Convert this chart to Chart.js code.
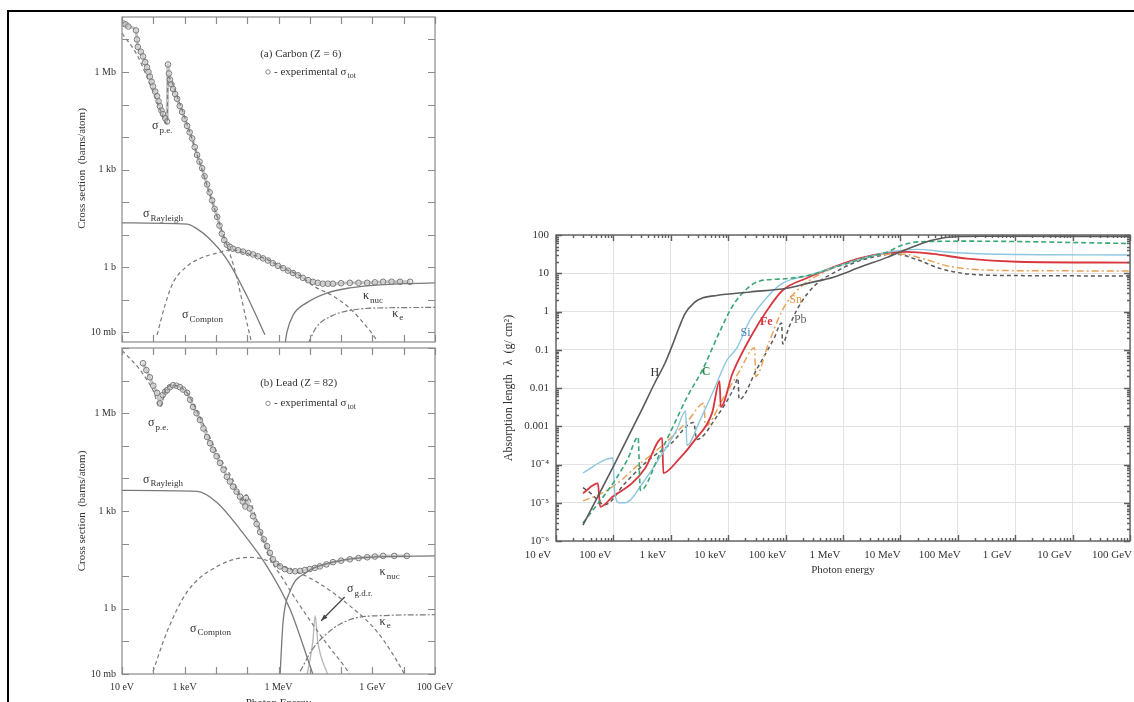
<!DOCTYPE html>
<html>
<head>
<meta charset="utf-8">
<title>Photon cross sections and absorption length</title>
<script src="https://cdn.jsdelivr.net/npm/chart.js@4.4.1/dist/chart.umd.min.js"></script>
<style>
  html, body { margin: 0; padding: 0; background: #fff; }
  body { width: 1134px; height: 702px; overflow: hidden; position: relative; }
  .frame { position: absolute; left: 7px; top: 10px; width: 1140px; height: 720px; border-left: 2px solid #000; border-top: 2px solid #000; }
  canvas { position: absolute; }
  #carbonChart { left: 30px; top: 12px; }
  #leadChart { left: 30px; top: 343px; }
  #absorptionChart { left: 490px; top: 225px; }
</style>
</head>
<body>
<div class="frame"></div>
<canvas id="carbonChart" width="440" height="335"></canvas>
<canvas id="leadChart" width="440" height="368"></canvas>
<canvas id="absorptionChart" width="644" height="362"></canvas>
<script>
// ---- (a) Carbon: photon energy (eV) vs cross section (barns/atom) ----
var carbonTotE = [11, 13, 16, 28, 30, 32, 40, 47, 55, 63, 70, 78, 88, 98, 115, 132, 147, 162, 182, 204, 240, 275, 295, 315, 339, 380, 427, 500, 575, 700, 832, 1000, 1200, 1450, 1740, 2100, 2510, 3000, 3630, 4350, 5250, 6300, 7590, 9100, 1.1e4, 1.3e4, 1.55e4, 1.85e4, 2.24e4, 2.8e4, 3.5e4, 5.1e4, 7.4e4, 1.1e5, 1.55e5, 2.2e5, 3.2e5, 4.6e5, 6.6e5, 9.6e5, 1.4e6, 2.0e6, 2.9e6, 4.2e6, 6.0e6, 8.8e6, 1.26e7, 1.8e7, 2.6e7, 3.8e7, 5.5e7, 1e8, 1.9e8, 3.6e8, 6.8e8, 1.2e9, 2.2e9, 4.1e9, 7.6e9, 1.6e10];
var carbonTotSigma = [3.1e7, 2.9e7, 2.5e7, 1.9e7, 1.0e7, 5.9e6, 4.2e6, 3.0e6, 2.0e6, 1.4e6, 1.0e6, 7.2e5, 5.0e5, 3.6e5, 2.5e5, 1.8e5, 1.25e5, 8.9e4, 6.5e4, 5.1e4, 3.8e4, 3.0e4, 1.7e6, 9e5, 5.9e5, 4.2e5, 3.0e5, 2.1e5, 1.5e5, 9e4, 5.9e4, 3.6e4, 2.2e4, 1.4e4, 9.1e3, 4.9e3, 2.8e3, 1.75e3, 1.1e3, 620, 350, 200, 112, 62, 35, 19, 10.7, 6.8, 4.9, 4.2, 3.7, 3.3, 3.0, 2.7, 2.45, 2.15, 1.86, 1.6, 1.32, 1.1, 0.93, 0.78, 0.66, 0.56, 0.47, 0.40, 0.355, 0.33, 0.31, 0.31, 0.31, 0.32, 0.33, 0.33, 0.33, 0.34, 0.355, 0.355, 0.355, 0.355];
var carbonPeE = [10, 30, 78, 162, 275, 295, 708, 2140, 8100, 1.95e4, 4.1e4, 1.07e5, 1.32e5];
var carbonPeSigma = [1.55e7, 3.4e6, 4.2e5, 7.2e4, 2.6e4, 6.8e5, 1.05e5, 4.6e3, 85, 7.1, 0.76, 0.0135, 0.0058];
var carbonRayE = [10, 1200, 2500, 5250, 2.24e4, 9.8e4, 3.7e5];
var carbonRaySigma = [23, 21, 15, 8.7, 1.74, 0.13, 0.0083];
var carbonComptonE = [132, 234, 427, 1200, 3100, 9300, 3.2e4, 1e5, 4.3e5, 1.4e6, 4.9e6, 1.26e7, 5.5e7, 1.9e8, 1.05e9, 1.6e9];
var carbonComptonSigma = [0.0083, 0.066, 0.33, 1.07, 1.86, 2.6, 3.4, 2.6, 1.74, 0.93, 0.54, 0.27, 0.13, 0.054, 0.0083, 0.0045];
var carbonNucE = [1.6e6, 1.86e6, 2.9e6, 8.1e6, 3.5e7, 1.9e8, 2.2e9, 1e11];
var carbonNucSigma = [0.004, 0.01, 0.033, 0.081, 0.16, 0.23, 0.29, 0.33];
var carbonElecE = [8.9e6, 1.6e7, 5.5e7, 2e8, 6.8e8, 1e11];
var carbonElecSigma = [0.0045, 0.014, 0.033, 0.047, 0.054, 0.058];

// ---- (b) Lead ----
var leadTotE = [47, 60, 78, 100, 132, 162, 200, 240, 275, 340, 427, 550, 708, 900, 1200, 1500, 1860, 2400, 3100, 4000, 5250, 6500, 8100, 1.05e4, 1.35e4, 1.75e4, 2.24e4, 2.8e4, 3.5e4, 4.6e4, 5.9e4, 7.2e4, 8.7e4, 9.1e4, 1.2e5, 1.55e5, 2.0e5, 2.6e5, 3.4e5, 4.3e5, 5.3e5, 6.6e5, 8.5e5, 1.12e6, 1.6e6, 2.3e6, 3.4e6, 4.9e6, 7e6, 1e7, 1.45e7, 2.1e7, 3.4e7, 5.5e7, 1e8, 1.9e8, 3.6e8, 6.8e8, 1.2e9, 2.2e9, 5e9, 1.26e10];
var leadTotSigma = [3.4e7, 2.1e7, 1.26e7, 7.0e6, 4.2e6, 2.0e6, 3.6e6, 4.6e6, 5.1e6, 6.3e6, 7.2e6, 7.0e6, 6.3e6, 5.3e6, 4.2e6, 2.6e6, 1.55e6, 1.0e6, 6.2e5, 3.4e5, 1.86e5, 1.2e5, 7.6e4, 4.8e4, 3.0e4, 1.85e4, 1.12e4, 8.0e3, 5.6e3, 3.9e3, 2.75e3, 1.95e3, 1.38e3, 2.5e3, 1.2e3, 690, 400, 224, 135, 83, 52, 33, 24, 20, 16.5, 14.5, 14.2, 14.5, 15.5, 16.6, 18, 20, 23, 27, 30, 33, 36, 38, 40, 42, 42, 42];
var leadPeE = [10, 38, 98, 162, 275, 427, 1200, 3100, 1.1e4, 3.5e4, 8.7e4, 9.1e4, 2e5, 4.3e5, 1.4e6, 4.9e6, 2.6e7, 1.66e8, 2e8];
var leadPeSigma = [8.5e7, 2.1e7, 5e6, 1.55e6, 6.3e6, 7.2e6, 4.2e6, 7.6e5, 6.2e4, 9.1e3, 1.8e3, 3.2e3, 550, 55, 8.1, 1.23, 0.123, 0.012, 0.009];
var leadRayE = [10, 2500, 1.1e4, 5.9e4, 4.3e5, 2.3e6, 1.17e7, 1.3e7];
var leadRaySigma = [4.3e3, 4e3, 1.8e3, 275, 20, 1, 0.012, 0.009];
var leadComptonE = [98, 275, 1200, 1.1e4, 1.23e5, 1.4e6, 1.7e7, 1.9e8, 1.4e9, 9.5e9, 1.1e10];
var leadComptonSigma = [0.012, 0.2, 3.3, 20, 38, 20, 6.6, 1.23, 0.2, 0.012, 0.009];
var leadNucE = [1.12e6, 1.4e6, 2.3e6, 8.1e6, 5.5e7, 6.8e8, 1e11];
var leadNucSigma = [0.009, 0.4, 3.3, 13.5, 27, 38, 42];
var leadElecE = [4.9e6, 1.26e7, 5.5e7, 2.4e8, 2.2e9, 1e11];
var leadElecSigma = [0.012, 0.06, 0.245, 0.5, 0.62, 0.66];
var leadGdrE = [8.1e6, 1.25e7, 1.48e7, 1.8e7, 3.8e7];
var leadGdrSigma = [0.009, 0.1, 0.62, 0.1, 0.009];

// ---- absorption length (g/cm2) vs photon energy (eV) ----
var hE = [29.5, 100, 316, 525, 794, 1120, 1410, 1780, 2510, 3550, 6310, 2.4e4, 1.05e5, 2.6e5, 6.8e5, 2e6, 5.9e6, 1.66e7, 3.7e7, 1e8, 3.2e8, 1e11];
var hLambda = [2.6e-6, 8.9e-5, 2.8e-3, 0.0135, 0.045, 0.16, 0.4, 0.89, 1.66, 2.24, 2.63, 3.24, 4.07, 5.6, 7.9, 14.5, 26, 49, 74, 91, 93, 91];
var cE = [29.5, 107, 178, 269, 295, 631, 1100, 1900, 3630, 7240, 1.2e4, 2.14e4, 3.55e4, 8.9e4, 2.6e5, 8.9e5, 2.6e6, 5.9e6, 1e7, 2e7, 1.45e8, 1e11];
var cLambda = [2.95e-6, 3.9e-5, 1.4e-4, 5.2e-4, 2.1e-5, 1.8e-4, 1e-3, 5.6e-3, 0.0316, 0.316, 1.41, 4.0, 6.3, 7.1, 8.9, 15.8, 26, 36, 52, 66, 69, 60];
var siE = [29.5, 70.8, 97.7, 105, 126, 158, 355, 794, 1260, 1820, 1905, 3240, 5620, 9550, 1.41e4, 2.4e4, 4.8e4, 8.9e4, 2.6e5, 7.9e5, 2.5e6, 7.9e6, 2e7, 6.3e7, 3.2e8, 1e11];
var siLambda = [6.0e-5, 1.32e-4, 1.48e-4, 2.0e-5, 1.0e-5, 1.0e-5, 4.0e-5, 2.5e-4, 7.9e-4, 2.5e-3, 3.2e-4, 1.45e-3, 8.9e-3, 0.054, 0.11, 0.6, 2.4, 5.5, 8.9, 15.1, 26, 38, 42, 36, 32, 30];
var feE = [29.5, 53.7, 58.9, 95.5, 209, 355, 708, 741, 1350, 2630, 5250, 7080, 7410, 1.2e4, 2.7e4, 4.8e4, 8.9e4, 2.3e5, 6.8e5, 2e6, 5.9e6, 1.29e7, 3.7e7, 1.45e8, 1.07e9, 1e11];
var feLambda = [1.78e-5, 3.2e-5, 7.8e-6, 1.41e-5, 3.2e-5, 7.9e-5, 4.9e-4, 6.0e-5, 1.32e-4, 4.4e-4, 2.24e-3, 0.0151, 3.2e-3, 0.025, 0.275, 1.1, 3.6, 7.4, 14.5, 25, 34, 36, 32, 24, 20, 19];
var snE = [29.5, 63, 126, 251, 501, 1000, 2000, 3800, 3980, 7940, 1.58e4, 2.88e4, 3.02e4, 5.0e4, 8.9e4, 1.58e5, 3.2e5, 6.3e5, 1.58e6, 4e6, 1e7, 2.5e7, 6.3e7, 2e8, 1e9, 1e11];
var snLambda = [1.12e-5, 1.78e-5, 3.5e-5, 8.9e-5, 2.0e-4, 5.0e-4, 1.41e-3, 4.0e-3, 1.0e-3, 5.0e-3, 0.028, 0.112, 0.02, 0.141, 1.12, 3.55, 7.9, 13.2, 22.4, 30, 32, 24, 15.8, 12.6, 11.7, 11.5];
var pbE = [29.5, 40, 71, 158, 398, 1000, 2510, 2820, 6310, 1.26e4, 1.48e4, 1.55e4, 3.16e4, 6.3e4, 8.5e4, 8.9e4, 1.12e5, 1.58e5, 2.5e5, 4e5, 7.1e5, 1.58e6, 4e6, 7.9e6, 2e7, 5e7, 1.58e8, 1e9, 1e11];
var pbLambda = [2.5e-5, 1.78e-5, 8.9e-6, 3.2e-5, 1.26e-4, 3.5e-4, 1.26e-3, 4.5e-4, 1.78e-3, 0.01, 0.0178, 5.0e-3, 0.0316, 0.2, 0.5, 0.141, 0.355, 1.12, 3.16, 6.3, 10.5, 19, 28, 32, 22.4, 13.2, 9.5, 8.7, 8.5];

// ---- tick labels ----
var crossTickValues = [0.01, 1, 1e3, 1e6];
var crossTickLabels = ['10 mb', '1 b', '1 kb', '1 Mb'];
var energyTickValuesLeft = [10, 1e3, 1e6, 1e9, 1e11];
var energyTickLabelsLeft = ['10 eV', '1 keV', '1 MeV', '1 GeV', '100 GeV'];
var energyTickValues = [10, 100, 1e3, 1e4, 1e5, 1e6, 1e7, 1e8, 1e9, 1e10, 1e11];
var energyTickLabels = ['10 eV', '100 eV', '1 keV', '10 keV', '100 keV', '1 MeV', '10 MeV', '100 MeV', '1 GeV', '10 GeV', '100 GeV'];
var lambdaTickValues = [1e-6, 1e-5, 1e-4, 1e-3, 0.01, 0.1, 1, 10, 100];
var lambdaTickLabels = ['10\u207B\u2076', '10\u207B\u2075', '10\u207B\u2074', '0.001', '0.01', '0.1', '1', '10', '100'];

var SERIF = '"Liberation Serif", "Times New Roman", serif';

function pairs(xs, ys) {
  return xs.map(function (x, i) { return { x: x, y: ys[i] }; });
}

function isDecade(v) {
  var l = Math.log10(v);
  return Math.abs(l - Math.round(l)) < 1e-6;
}

function labelFor(v, values, labels) {
  for (var i = 0; i < values.length; i++) {
    if (Math.abs(Math.log10(values[i]) - Math.log10(v)) < 1e-6) return labels[i];
  }
  return '';
}

function decadeTicks(from, to) {
  var out = [];
  for (var p = from; p <= to; p++) out.push({ value: Math.pow(10, p) });
  return out;
}

function minorTicks(from, to) {
  var out = [];
  for (var p = from; p < to; p++) {
    for (var m = 1; m <= 9; m++) out.push({ value: m * Math.pow(10, p) });
  }
  out.push({ value: Math.pow(10, to) });
  return out;
}

function curve(label, xs, ys, color, width, dash) {
  return {
    label: label,
    data: pairs(xs, ys),
    showLine: true,
    borderColor: color,
    backgroundColor: color,
    borderWidth: width,
    borderDash: dash || [],
    pointRadius: 0,
    cubicInterpolationMode: 'monotone',
    fill: false,
  };
}

// measured total cross section: a grey band of overlapping open circles
function measuredPoints(label, xs, ys) {
  return {
    label: label,
    data: pairs(xs, ys),
    showLine: true,
    borderColor: 'rgba(150,150,150,0.55)',
    borderWidth: 3,
    cubicInterpolationMode: 'monotone',
    pointRadius: 2.8,
    pointBorderWidth: 1,
    pointBorderColor: '#7a7a7a',
    pointBackgroundColor: 'rgba(215,215,215,0.45)',
  };
}

// draws the plot box with ticks pointing inwards on all four sides
var frameTicks = {
  id: 'frameTicks',
  afterDraw: function (chart, args, o) {
    var ctx = chart.ctx, a = chart.chartArea, xs = chart.scales.x, ys = chart.scales.y;
    ctx.save();
    ctx.strokeStyle = o.color;
    ctx.lineWidth = o.width;
    ctx.beginPath();
    xs.ticks.forEach(function (t) {
      var len = isDecade(t.value) ? o.major : o.minor;
      var px = Math.round(xs.getPixelForValue(t.value)) + 0.5;
      if (!len || px < a.left - 1 || px > a.right + 1) return;
      ctx.moveTo(px, a.bottom); ctx.lineTo(px, a.bottom - len);
      ctx.moveTo(px, a.top); ctx.lineTo(px, a.top + len);
    });
    ys.ticks.forEach(function (t) {
      var len = isDecade(t.value) ? o.major : o.minor;
      var py = Math.round(ys.getPixelForValue(t.value)) + 0.5;
      if (!len || py < a.top - 1 || py > a.bottom + 1) return;
      ctx.moveTo(a.left, py); ctx.lineTo(a.left + len, py);
      ctx.moveTo(a.right, py); ctx.lineTo(a.right - len, py);
    });
    ctx.stroke();
    ctx.strokeRect(a.left, a.top, a.right - a.left, a.bottom - a.top);
    ctx.restore();
  },
};

// text annotations placed at data coordinates, with optional subscript
var textLabels = {
  id: 'textLabels',
  afterDatasetsDraw: function (chart, args, o) {
    var ctx = chart.ctx, xs = chart.scales.x, ys = chart.scales.y;
    ctx.save();
    (o.arrows || []).forEach(function (ar) {
      var x1 = xs.getPixelForValue(ar.from[0]), y1 = ys.getPixelForValue(ar.from[1]);
      var x2 = xs.getPixelForValue(ar.to[0]), y2 = ys.getPixelForValue(ar.to[1]);
      var ang = Math.atan2(y2 - y1, x2 - x1);
      ctx.strokeStyle = ar.color; ctx.fillStyle = ar.color; ctx.lineWidth = 1.2;
      ctx.beginPath(); ctx.moveTo(x1, y1); ctx.lineTo(x2, y2); ctx.stroke();
      ctx.beginPath();
      ctx.moveTo(x2, y2);
      ctx.lineTo(x2 - 7 * Math.cos(ang - 0.35), y2 - 7 * Math.sin(ang - 0.35));
      ctx.lineTo(x2 - 7 * Math.cos(ang + 0.35), y2 - 7 * Math.sin(ang + 0.35));
      ctx.closePath(); ctx.fill();
    });
    (o.items || []).forEach(function (it) {
      var px = xs.getPixelForValue(it.x), py = ys.getPixelForValue(it.y);
      var size = it.size || 12;
      var mainFont = (it.weight || 'normal') + ' ' + size + 'px ' + SERIF;
      var subFont = Math.round(size * 0.72) + 'px ' + SERIF;
      ctx.textBaseline = 'middle';
      ctx.textAlign = 'left';
      ctx.font = mainFont;
      var w = ctx.measureText(it.text).width;
      var total = w;
      if (it.sub) { ctx.font = subFont; total += ctx.measureText(it.sub).width + 1; ctx.font = mainFont; }
      var x0 = it.align === 'center' ? px - total / 2 : px;
      if (it.marker) {
        ctx.beginPath(); ctx.arc(x0 + 3, py, 2.2, 0, Math.PI * 2);
        ctx.strokeStyle = '#888'; ctx.lineWidth = 1; ctx.stroke();
        x0 += 9;
      }
      ctx.fillStyle = it.color || '#333';
      ctx.fillText(it.text, x0, py);
      if (it.sub) {
        ctx.font = subFont;
        ctx.fillText(it.sub, x0 + w + 1, py + size * 0.36);
      }
    });
    ctx.restore();
  },
};

function crossSectionOptions(cfg) {
  return {
    responsive: false,
    animation: false,
    events: [],
    layout: { padding: { top: 4, right: 35, left: 0, bottom: 0 } },
    plugins: {
      legend: { display: false },
      tooltip: { enabled: false },
      frameTicks: { color: '#8a8a8a', width: 1.2, major: 7, minor: 0 },
      textLabels: { items: cfg.items, arrows: cfg.arrows || [] },
    },
    scales: {
      x: {
        type: 'logarithmic',
        min: 10,
        max: 1e11,
        afterBuildTicks: function (s) { s.ticks = decadeTicks(1, 11); },
        afterFit: function (s) { s.height = cfg.xHeight; s.paddingLeft = 0; s.paddingRight = 0; },
        grid: { display: false, drawTicks: false },
        border: { display: false },
        ticks: {
          display: cfg.showX,
          autoSkip: false,
          maxRotation: 0,
          minRotation: 0,
          padding: 7,
          color: '#333',
          font: { family: SERIF, size: 10 },
          callback: function (v) { return labelFor(v, energyTickValuesLeft, energyTickLabelsLeft); },
        },
        title: {
          display: cfg.showX,
          text: 'Photon Energy',
          color: '#333',
          font: { family: SERIF, size: 11 },
          padding: { top: 0, bottom: 1 },
        },
      },
      y: {
        type: 'logarithmic',
        min: cfg.yMin,
        max: cfg.yMax,
        afterBuildTicks: function (s) { s.ticks = decadeTicks(-2, 8).filter(function (t) { return t.value <= cfg.yMax; }); },
        afterFit: function (s) { s.width = 92; s.paddingTop = 0; s.paddingBottom = 0; },
        grid: { display: false, drawTicks: false },
        border: { display: false },
        ticks: {
          autoSkip: false,
          padding: 6,
          color: '#333',
          font: { family: SERIF, size: 10 },
          callback: function (v) { return labelFor(v, crossTickValues, crossTickLabels); },
        },
        title: {
          display: true,
          text: cfg.yTitle,
          color: '#333',
          font: { family: SERIF, size: 11 },
          padding: { top: 46, bottom: 0 },
        },
      },
    },
  };
}

var GRAY = '#7a7a7a';

new Chart(document.getElementById('carbonChart'), {
  type: 'scatter',
  data: {
    datasets: [
      curve('p.e.', carbonPeE, carbonPeSigma, GRAY, 1.2, [4, 3]),
      curve('Rayleigh', carbonRayE, carbonRaySigma, GRAY, 1.3),
      curve('Compton', carbonComptonE, carbonComptonSigma, GRAY, 1.2, [4, 3]),
      curve('nuc', carbonNucE, carbonNucSigma, GRAY, 1.3),
      curve('e', carbonElecE, carbonElecSigma, GRAY, 1.2, [6, 2, 2, 2]),
      measuredPoints('experimental', carbonTotE, carbonTotSigma),
    ],
  },
  options: crossSectionOptions({
    showX: false,
    xHeight: 0,
    yMin: 0.005,
    yMax: 4.9e7,
    yTitle: '\u00A0\u00A0\u00A0\u00A0\u00A0\u00A0\u00A0\u00A0Cross section  (barns/atom)',
    items: [
      { x: 2.6e5, y: 3.6e6, text: '(a) Carbon (Z = 6)', size: 11 },
      { x: 3.7e5, y: 1.0e6, text: '- experimental \u03C3', sub: 'tot', size: 11, marker: true },
      { x: 91, y: 2.2e4, text: '\u03C3', sub: 'p.e.' },
      { x: 47, y: 43, text: '\u03C3', sub: 'Rayleigh' },
      { x: 830, y: 0.033, text: '\u03C3', sub: 'Compton' },
      { x: 5e8, y: 0.13, text: '\u03BA', sub: 'nuc' },
      { x: 4.3e9, y: 0.038, text: '\u03BA', sub: 'e' },
    ],
  }),
  plugins: [frameTicks, textLabels],
});

new Chart(document.getElementById('leadChart'), {
  type: 'scatter',
  data: {
    datasets: [
      curve('p.e.', leadPeE, leadPeSigma, GRAY, 1.2, [4, 3]),
      curve('Rayleigh', leadRayE, leadRaySigma, GRAY, 1.3),
      curve('Compton', leadComptonE, leadComptonSigma, GRAY, 1.2, [4, 3]),
      curve('nuc', leadNucE, leadNucSigma, GRAY, 1.3),
      curve('e', leadElecE, leadElecSigma, GRAY, 1.2, [6, 2, 2, 2]),
      curve('g.d.r.', leadGdrE, leadGdrSigma, '#b5b5b5', 1.3),
      measuredPoints('experimental', leadTotE, leadTotSigma),
    ],
  },
  options: crossSectionOptions({
    showX: true,
    xHeight: 37,
    yMin: 0.01,
    yMax: 1e8,
    yTitle: 'Cross section  (barns/atom)',
    items: [
      { x: 2.6e5, y: 8.3e6, text: '(b) Lead (Z = 82)', size: 11 },
      { x: 3.7e5, y: 2.0e6, text: '- experimental \u03C3', sub: 'tot', size: 11, marker: true },
      { x: 68, y: 5e5, text: '\u03C3', sub: 'p.e.' },
      { x: 47, y: 9.1e3, text: '\u03C3', sub: 'Rayleigh' },
      { x: 1.5e3, y: 0.245, text: '\u03C3', sub: 'Compton' },
      { x: 1.7e9, y: 13.5, text: '\u03BA', sub: 'nuc' },
      { x: 1.55e8, y: 4.1, text: '\u03C3', sub: 'g.d.r.' },
      { x: 1.7e9, y: 0.4, text: '\u03BA', sub: 'e' },
    ],
    arrows: [{ from: [1.3e8, 2.3], to: [2.3e7, 0.43], color: '#444' }],
  }),
  plugins: [frameTicks, textLabels],
});

new Chart(document.getElementById('absorptionChart'), {
  type: 'scatter',
  data: {
    datasets: [
      curve('H', hE, hLambda, '#5a5a5a', 1.6),
      curve('C', cE, cLambda, '#3aa676', 1.6, [5, 3]),
      curve('Si', siE, siLambda, '#8cc6e0', 1.4),
      curve('Fe', feE, feLambda, '#d9363e', 1.8),
      curve('Sn', snE, snLambda, '#e8a35a', 1.5, [7, 3, 2, 3]),
      curve('Pb', pbE, pbLambda, '#5a5a5a', 1.5, [4, 3]),
    ],
  },
  options: {
    responsive: false,
    animation: false,
    events: [],
    layout: { padding: { top: 10, right: 4, left: 0, bottom: 0 } },
    plugins: {
      legend: { display: false },
      tooltip: { enabled: false },
      frameTicks: { color: '#5e5e5e', width: 1.4, major: 6, minor: 3 },
      textLabels: {
        items: [
          { x: 525, y: 0.0245, text: 'H', color: '#333', align: 'center' },
          { x: 4100, y: 0.026, text: 'C', color: '#2e8b57', align: 'center', weight: 'bold' },
          { x: 2.0e4, y: 0.275, text: 'Si', color: '#4a7db5', align: 'center' },
          { x: 4.6e4, y: 0.54, text: 'Fe', color: '#d9363e', align: 'center', weight: 'bold' },
          { x: 1.5e5, y: 2.0, text: 'Sn', color: '#e39a4a', align: 'center' },
          { x: 1.8e5, y: 0.6, text: 'Pb', color: '#666', align: 'center' },
        ],
      },
    },
    scales: {
      x: {
        type: 'logarithmic',
        min: 10,
        max: 1e11,
        afterBuildTicks: function (s) { s.ticks = minorTicks(1, 11); },
        afterFit: function (s) { s.height = 46; s.paddingLeft = 0; s.paddingRight = 0; },
        grid: {
          drawTicks: false,
          color: function (c) { return c.tick && isDecade(c.tick.value) ? '#e2e2e2' : 'rgba(0,0,0,0)'; },
        },
        border: { display: false },
        ticks: {
          autoSkip: false,
          maxRotation: 0,
          minRotation: 0,
          padding: 8,
          labelOffset: -18,
          color: '#333',
          font: { family: SERIF, size: 11 },
          callback: function (v) { return labelFor(v, energyTickValues, energyTickLabels); },
        },
        title: {
          display: true,
          text: 'Photon energy',
          color: '#333',
          font: { family: SERIF, size: 11 },
          padding: { top: 0, bottom: 10 },
        },
      },
      y: {
        type: 'logarithmic',
        min: 1e-6,
        max: 100,
        afterBuildTicks: function (s) { s.ticks = minorTicks(-6, 2); },
        afterFit: function (s) { s.width = 66; s.paddingTop = 0; s.paddingBottom = 0; },
        grid: {
          drawTicks: false,
          color: function (c) { return c.tick && isDecade(c.tick.value) ? '#e2e2e2' : 'rgba(0,0,0,0)'; },
        },
        border: { display: false },
        ticks: {
          autoSkip: false,
          padding: 7,
          color: '#333',
          font: { family: SERIF, size: 11 },
          callback: function (v) { return labelFor(v, lambdaTickValues, lambdaTickLabels); },
        },
        title: {
          display: true,
          text: 'Absorption length   \u03BB  (g/ cm\u00B2)',
          color: '#333',
          font: { family: SERIF, size: 12 },
          padding: { top: 12, bottom: 0 },
        },
      },
    },
  },
  plugins: [frameTicks, textLabels],
});
</script>
</body>
</html>
